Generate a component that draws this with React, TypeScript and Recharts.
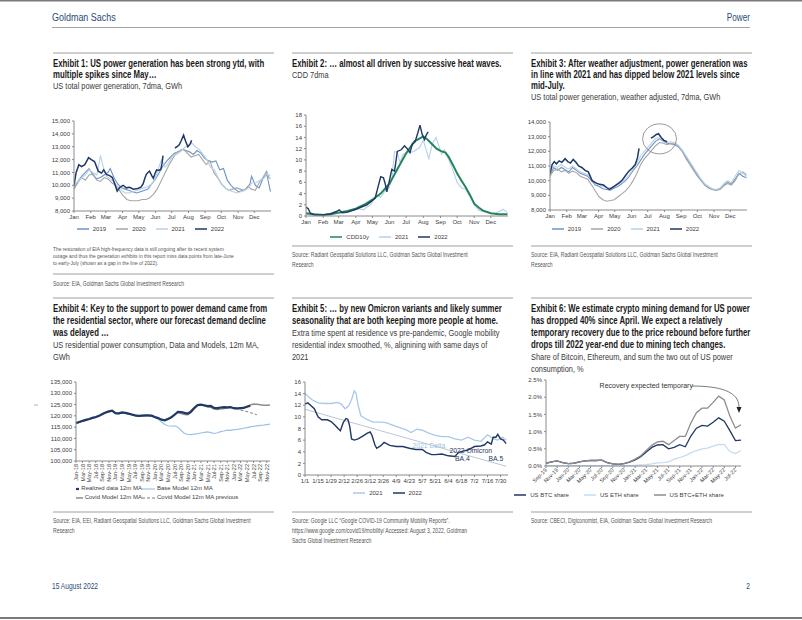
import React from "react";
import { LineChart, Line, XAxis, YAxis, Legend, ReferenceDot } from "recharts";

const FONT = "'Liberation Sans', Arial, Helvetica, sans-serif";
const NAVY = "#1f3864";
const MID = "#6b93c8";
const GREY = "#a6a6a6";
const LIGHT = "#b7d1ea";
const HEAD = "#2c4a75";

// ---------- shared axis labels ----------
const MONTHS = ["Jan", "Feb", "Mar", "Apr", "May", "Jun", "Jul", "Aug", "Sep", "Oct", "Nov", "Dec"];
const MONTH_START = [0, 31, 59, 90, 120, 151, 181, 212, 243, 273, 304, 334];

// ---------- Exhibit 1: US total power generation, 7dma, GWh  [day of year, GWh] ----------
const gen2019 = [[0,9800],[7,10300],[14,10700],[21,11000],[28,11300],[35,10800],[42,10500],[49,10600],[56,10800],[63,11000],[67,11300],[74,10600],[81,10100],[88,9800],[95,9700],[102,9600],[109,9500],[116,9400],[123,9500],[130,9600],[137,9700],[144,10100],[151,10500],[158,11000],[165,11500],[172,11900],[179,12200],[186,12500],[193,12600],[200,12800],[207,12700],[214,12600],[221,12400],[228,12700],[235,12500],[242,12100],[249,11900],[256,11800],[263,11900],[270,11200],[277,11300],[284,10400],[291,10000],[298,9700],[305,9500],[312,9600],[319,9700],[326,10100],[329,10700],[336,10000],[343,9800],[350,10500],[357,10900],[361,10100],[364,9500]];
const gen2020 = [[0,9700],[7,10200],[14,10600],[21,10400],[28,10800],[35,10900],[42,10400],[49,10300],[56,10600],[63,10500],[70,10200],[77,10000],[84,9600],[91,9200],[98,8900],[105,8800],[112,8800],[119,8800],[126,8900],[133,8900],[140,9000],[147,9300],[154,9700],[161,10300],[168,10900],[175,11500],[182,12000],[189,12500],[196,12700],[203,12800],[210,12500],[217,12200],[224,12300],[231,12400],[238,12000],[245,11600],[252,11900],[259,11000],[266,10600],[273,10100],[280,9800],[287,9600],[294,9700],[301,9800],[308,9700],[315,9600],[322,9900],[329,9700],[336,9600],[343,10200],[350,10600],[357,11100],[361,10600],[364,10500]];
const gen2021 = [[0,10000],[7,10300],[14,10600],[21,10800],[28,11200],[35,11000],[42,10800],[46,11600],[49,12300],[53,11600],[60,10700],[67,10500],[74,10300],[81,9900],[88,9600],[95,9400],[102,9400],[109,9500],[116,9600],[123,9700],[130,9800],[137,9900],[144,10100],[151,10600],[158,11500],[162,12000],[169,11400],[176,11800],[183,12300],[190,12400],[197,12600],[204,12900],[211,13100],[218,13300],[225,13000],[232,12800],[239,12400],[246,12000],[253,11400],[260,11200],[267,10600],[274,10100],[281,9800],[288,9600],[295,9500],[302,9400],[309,9500],[316,9600],[323,9800],[330,10200],[337,10200],[344,10400],[351,10500],[358,10900],[364,10700]];
const gen2022 = [[0,10000],[4,11000],[9,11600],[14,11450],[20,11600],[27,12150],[32,12000],[38,11850],[45,11100],[51,10950],[55,11200],[60,10850],[66,10750],[71,10600],[76,10050],[80,9550],[85,9850],[91,10000],[97,9800],[103,9850],[110,9700],[118,9750],[124,9850],[128,10100],[131,10500],[134,10850],[137,11000],[140,11100],[144,10750],[147,10550],[150,10900],[153,11200],[157,11150],[161,11250],[163,11700],[165,12300],[166,null],[187,12900],[191,13000],[195,13150],[199,13500],[203,13900],[207,13400],[211,13000],[215,13200],[218,13500]];
const GEN_TICKS = [8000, 9000, 10000, 11000, 12000, 13000, 14000, 15000];

// ---------- Exhibit 2: CDD 7dma ----------
const cdd10y = [[0,0.5],[15,0.3],[31,0.2],[45,0.3],[59,0.6],[75,0.9],[90,1.3],[105,2.0],[120,2.9],[135,4.0],[151,5.8],[166,8.5],[181,11.2],[196,13.3],[212,14.2],[220,13.6],[228,12.8],[236,12.0],[243,11.6],[252,11.3],[258,10.5],[266,9.0],[273,7.6],[281,6.3],[288,5.2],[296,3.8],[304,2.2],[312,1.5],[319,1.0],[334,0.5],[349,0.3],[364,0.3]];
const cdd2021 = [[0,0.3],[10,0.2],[20,0.2],[30,0.3],[40,0.4],[55,0.8],[62,0.4],[70,0.5],[85,1.0],[95,1.3],[104,1.1],[110,1.6],[116,1.9],[120,2.5],[128,3.8],[135,3.3],[143,4.5],[150,5.0],[155,6.5],[160,11.5],[165,11.3],[170,9.5],[175,11.0],[185,11.3],[195,11.5],[205,12.2],[212,13.5],[218,11.5],[222,10.2],[228,12.8],[235,14.0],[240,12.5],[245,11.0],[250,11.8],[258,10.0],[266,8.0],[273,6.0],[281,5.0],[288,4.8],[296,3.5],[304,2.0],[312,1.0],[319,0.8],[334,0.4],[342,0.5],[349,0.8],[356,1.2],[364,0.6]];
const cdd2022 = [[0,1.6],[4,1.3],[8,0.5],[15,0.2],[31,0.2],[45,0.4],[55,0.8],[60,1.1],[65,0.6],[75,0.7],[90,1.2],[100,1.6],[110,2.0],[118,2.6],[125,3.2],[131,5.5],[135,7.0],[140,6.8],[143,5.8],[146,4.3],[150,6.0],[155,8.3],[160,8.0],[165,11.5],[172,11.8],[178,12.5],[183,12.0],[188,11.3],[192,12.8],[197,13.2],[202,14.8],[206,16.2],[210,14.5],[214,13.6],[218,14.6],[221,15.0]];
const CDD_TICKS = [0, 2, 4, 6, 8, 10, 12, 14, 16, 18];

// ---------- Exhibit 3: weather adjusted generation ----------
const adj2019 = [[0,10400],[7,10900],[14,10700],[21,10900],[28,10750],[35,10600],[42,10900],[49,10700],[56,10500],[63,10400],[70,10300],[77,10000],[84,9700],[91,9600],[98,9450],[105,9400],[112,9350],[119,9500],[126,9600],[133,9800],[140,10000],[147,10300],[154,10700],[161,11000],[168,11400],[175,11800],[182,12100],[189,12400],[196,12700],[203,12850],[210,12700],[217,12550],[224,12500],[231,12450],[238,12300],[245,12000],[252,11600],[259,11200],[266,10800],[273,10400],[280,10000],[287,9700],[294,9500],[301,9400],[308,9350],[315,9450],[322,9700],[329,9900],[336,9750],[343,10100],[350,10500],[357,10300],[364,10200]];
const adj2020 = [[0,10300],[7,10700],[14,10800],[21,10600],[28,10700],[35,10500],[42,10650],[49,10550],[56,10300],[63,10200],[70,10100],[77,9700],[84,9300],[91,8900],[98,8700],[105,8600],[112,8650],[119,8700],[126,8900],[133,9100],[140,9300],[147,9600],[154,10000],[161,10500],[168,11100],[175,11500],[182,11800],[189,12100],[196,12400],[203,12600],[210,12550],[217,12450],[224,12550],[231,12500],[238,12350],[245,12000],[252,11500],[259,11100],[266,10700],[273,10300],[280,10000],[287,9700],[294,9500],[301,9400],[308,9350],[315,9400],[322,9650],[329,9800],[336,9700],[343,10000],[350,10450],[357,10600],[364,10400]];
const adj2021 = [[0,10600],[7,11000],[14,10900],[21,11100],[28,10900],[35,10800],[42,11000],[49,10800],[56,10600],[63,10500],[70,10400],[77,10100],[84,9800],[91,9700],[98,9600],[105,9550],[112,9500],[119,9600],[126,9700],[133,9900],[140,10100],[147,10400],[154,10800],[161,11200],[168,11700],[175,12000],[182,12300],[189,12600],[196,12900],[203,12900],[210,12750],[217,12600],[224,12650],[231,12600],[238,12400],[245,12100],[252,11700],[259,11300],[266,10900],[273,10500],[280,10100],[287,9800],[294,9600],[301,9450],[308,9400],[315,9500],[322,9800],[329,10000],[336,9850],[343,10300],[350,10700],[357,10500],[364,10300]];
const adj2022 = [[0,10500],[4,11100],[8,11300],[12,11150],[17,11350],[22,11250],[28,11500],[33,11300],[38,11200],[43,11450],[48,11250],[53,11000],[59,10900],[65,10700],[71,10600],[78,10000],[85,9850],[92,9750],[99,9700],[106,9500],[110,9400],[116,9550],[122,9700],[128,9850],[134,10050],[140,10350],[146,10650],[152,10850],[158,11100],[162,11550],[165,12200],[166,null],[187,12900],[192,13000],[197,13150],[201,13200],[206,12950],[211,12750],[217,12650]];
const ADJ_TICKS = [8000, 9000, 10000, 11000, 12000, 13000, 14000];

// ---------- Exhibit 4: residential consumption, 12m MA, GWh (Jan-18 .. Dec-22) ----------
const YEARS4 = ["18", "19", "20", "21", "22"];
const months4 = YEARS4.flatMap((y) => MONTHS.map((m) => `${m}-${y}`));
const realized4 = [116800,117300,117800,118200,118600,119100,119500,120000,120800,121500,122000,122300,121200,121100,121500,121300,121000,120600,120200,120000,120100,120200,120200,120100,119500,119000,118300,118000,118600,119300,120500,121800,121700,121300,121000,122000,123600,124800,125000,124700,124300,124400,123500,123400,123700,123900,123800,123900,123400,123300,123400,123500,124000,124500];
const covid4 = [116700,117200,117700,118100,118500,119000,119400,119900,120700,121400,121900,122200,121100,121000,121400,121200,120900,120500,120100,119900,120000,120100,120100,120000,119400,118900,118400,118200,118800,119600,120800,121400,121000,120600,120500,121500,123200,124500,124800,124500,124000,123800,123000,122800,123000,123300,123500,123700,123300,123200,123300,123600,124200,124800,125200,125100,124900,124700,124700,124800];
const base4 = [116600,117100,117600,118000,118400,118900,119300,119800,120600,121300,121800,122100,121000,120900,121300,121100,120800,120400,120000,119800,119900,120000,120000,119900,119200,118500,117300,116200,115600,115400,115600,115000,113500,112200,111800,111700,111900,112100,112400,112700,112900,112600,112200,112500,113000,113300,113700,113600,113900,114000,114200,114500,114800,115100,115400,115600,115800,115900,116100,116300];
const PREV4_START = 50;
const prev4 = [122600,122300,121900,121400,121000,120500];
const RES_TICKS = [100000, 105000, 110000, 115000, 120000, 125000, 130000, 135000];
const series4 = [
  { key: "realized", name: "Realized data 12m MA", color: NAVY, width: 2.2, dash: undefined },
  { key: "base", name: "Base Model 12m MA", color: "#9cc2e5", width: 1.2, dash: undefined },
  { key: "covid", name: "Covid Model 12m MA", color: "#8c8c8c", width: 1.5, dash: undefined },
  { key: "prev", name: "Covid Model 12m MA previous", color: "#7f7f7f", width: 1, dash: "3 2" },
];

// ---------- Exhibit 5: residential mobility index, %  [day from 1/1, %] ----------
const DATES5 = ["1/1","1/15","1/29","2/12","2/26","3/12","3/26","4/9","4/23","5/7","5/21","6/4","6/18","7/2","7/16","7/30"];
const mob2021 = [[0,14.1],[4,13.4],[8,12.9],[14,12.4],[21,12.3],[28,12.3],[35,12.5],[39,12.2],[43,11.4],[47,11.9],[50,13.0],[53,14.5],[55,14.0],[57,12.0],[60,10.2],[66,9.6],[73,9.1],[80,9.1],[87,9.0],[94,8.6],[101,8.2],[108,7.8],[114,7.3],[120,7.9],[126,7.7],[133,7.2],[140,6.8],[147,6.6],[154,6.6],[161,6.2],[168,6.0],[175,6.5],[182,6.0],[189,5.8],[196,6.9],[200,6.5],[203,6.2],[207,6.0],[212,6.5],[216,6.0]];
const mob2022 = [[0,12.2],[3,12.4],[6,12.0],[10,11.4],[14,10.0],[18,9.5],[24,9.5],[28,9.2],[32,8.6],[36,7.9],[38,7.6],[41,9.0],[44,9.7],[46,9.6],[48,8.4],[50,6.2],[53,6.0],[57,6.2],[62,6.7],[67,7.2],[70,7.4],[72,6.8],[75,5.2],[77,4.6],[81,5.0],[85,5.6],[91,5.1],[98,4.9],[105,4.9],[112,4.6],[119,4.4],[126,4.4],[130,3.9],[136,3.5],[140,3.5],[147,3.6],[154,3.3],[161,3.2],[165,3.9],[170,4.1],[175,4.3],[182,4.9],[189,5.0],[193,5.2],[196,5.7],[200,5.3],[202,6.5],[205,6.5],[207,7.0],[210,6.2],[213,6.0],[216,5.4]];
const trend5 = [[0,11.3],[216,1.5]];
const MOB_TICKS = [0, 2, 4, 6, 8, 10, 12, 14, 16];

// ---------- Exhibit 6: crypto share of US power, % (Sep-19 .. Aug-22) ----------
const months6 = ["Sep-19","Oct-19","Nov-19","Dec-19","Jan-20","Feb-20","Mar-20","Apr-20","May-20","Jun-20","Jul-20","Aug-20","Sep-20","Oct-20","Nov-20","Dec-20","Jan-21","Feb-21","Mar-21","Apr-21","May-21","Jun-21","Jul-21","Aug-21","Sep-21","Oct-21","Nov-21","Dec-21","Jan-22","Feb-22","Mar-22","Apr-22","May-22","Jun-22","Jul-22","Aug-22"];
const btc6 = [0.08,0.12,0.15,0.10,0.07,0.08,0.12,0.15,0.16,0.16,0.17,0.10,0.06,0.05,0.07,0.11,0.18,0.27,0.41,0.54,0.61,0.62,0.50,0.54,0.62,0.56,0.87,1.10,1.18,1.16,1.27,1.40,1.30,1.03,0.74,0.75];
const eth6 = [0.01,0.01,0.01,0.01,0.01,0.01,0.01,0.01,0.01,0.01,0.01,0.01,0.01,0.01,0.01,0.01,0.02,0.03,0.04,0.06,0.09,0.10,0.12,0.20,0.24,0.30,0.38,0.45,0.50,0.52,0.58,0.63,0.62,0.42,0.36,0.45];
const sum6 = [0.08,0.12,0.15,0.10,0.07,0.08,0.12,0.15,0.16,0.16,0.17,0.10,0.06,0.05,0.07,0.12,0.20,0.30,0.45,0.60,0.70,0.72,0.62,0.74,0.86,0.86,1.25,1.55,1.68,1.68,1.85,2.03,1.92,1.45,1.10,1.20];
const SHARE_TICKS = [0, 0.5, 1, 1.5, 2, 2.5];

// ---------- helpers ----------
const pts = (a: (number | null)[][]) => a.map(([x, y]) => ({ x, y }));
const comma = (v: number) => v.toLocaleString("en-US");
const monthLabel = (v: number) => MONTHS[MONTH_START.indexOf(v)];
// keep legend items in series order (recharts 3 sorts by name otherwise)
const inOrder = (names: string[]) => (item: any) => names.indexOf(item.value);

const TICK = { fontSize: 6, fill: "#404040", fontFamily: FONT };
const AX = { stroke: "#8a8a8a" };
const yCommon = { type: "number" as const, tick: TICK, tickSize: 2, axisLine: AX, tickLine: AX, interval: 0 as const };
const xNum = { type: "number" as const, dataKey: "x", tick: TICK, tickSize: 2, axisLine: AX, tickLine: AX, interval: 0 as const, allowDataOverflow: true };
const legendCommon = {
  verticalAlign: "bottom" as const,
  height: 10,
  iconType: "plainline" as const,
  iconSize: 12,
  wrapperStyle: { fontSize: 6, lineHeight: "10px", fontFamily: FONT, whiteSpace: "nowrap" as const },
  formatter: (v: string) => <span style={{ color: "#404040" }}>{v}</span>,
};
const lineBase = { dot: false, activeDot: false, isAnimationActive: false, dataKey: "y", type: "linear" as const };

const rotTick = (angle: number) => (p: any) => (
  <text
    x={p.x}
    y={p.y - 1}
    transform={`rotate(${angle},${p.x},${p.y - 1})`}
    textAnchor="end"
    dominantBaseline="central"
    fontSize={5.5}
    fill="#404040"
    fontFamily={FONT}
  >
    {p.payload.value}
  </text>
);

function Box({ left, top, children }: { left: number; top: number; children: React.ReactNode }) {
  return <div style={{ position: "absolute", left, top }}>{children}</div>;
}

function Chart1() {
  return (
    <Box left={40} top={114}>
      <LineChart width={236} height={121} margin={{ top: 7, right: 5, bottom: 2, left: 0 }}>
        <XAxis {...xNum} domain={[0, 365]} ticks={MONTH_START} tickFormatter={monthLabel} height={12} />
        <YAxis {...yCommon} domain={[8000, 15000]} ticks={GEN_TICKS} tickFormatter={comma} width={34} />
        <Legend {...legendCommon} itemSorter={inOrder(["2019", "2020", "2021", "2022"])} />
        <Line {...lineBase} data={pts(gen2019)} name="2019" stroke={MID} strokeWidth={1.1} />
        <Line {...lineBase} data={pts(gen2020)} name="2020" stroke={GREY} strokeWidth={1.1} />
        <Line {...lineBase} data={pts(gen2021)} name="2021" stroke={LIGHT} strokeWidth={1.1} />
        <Line {...lineBase} data={pts(gen2022)} name="2022" stroke={NAVY} strokeWidth={1.5} />
      </LineChart>
    </Box>
  );
}

function Chart2() {
  return (
    <Box left={280} top={108}>
      <LineChart width={232} height={135} margin={{ top: 7, right: 4, bottom: 2, left: 0 }}>
        <XAxis {...xNum} domain={[0, 365]} ticks={MONTH_START} tickFormatter={monthLabel} height={15} />
        <YAxis {...yCommon} domain={[0, 18]} ticks={CDD_TICKS} width={26} />
        <Legend {...legendCommon} itemSorter={inOrder(["CDD10y", "2021", "2022"])} />
        <Line {...lineBase} data={pts(cdd2021)} name="2021" stroke={LIGHT} strokeWidth={1.1} />
        <Line {...lineBase} data={pts(cdd10y)} name="CDD10y" stroke="#23865a" strokeWidth={2} />
        <Line {...lineBase} data={pts(cdd2022)} name="2022" stroke={NAVY} strokeWidth={1.4} />
      </LineChart>
    </Box>
  );
}

function Chart3() {
  return (
    <Box left={514} top={115}>
      <LineChart width={237} height={120} margin={{ top: 7, right: 4, bottom: 2, left: 0 }}>
        <XAxis {...xNum} domain={[0, 365]} ticks={MONTH_START} tickFormatter={monthLabel} height={13} />
        <YAxis {...yCommon} domain={[8000, 14000]} ticks={ADJ_TICKS} tickFormatter={comma} width={36} />
        <Legend {...legendCommon} itemSorter={inOrder(["2019", "2020", "2021", "2022"])} />
        <Line {...lineBase} data={pts(adj2019)} name="2019" stroke={MID} strokeWidth={1.1} />
        <Line {...lineBase} data={pts(adj2020)} name="2020" stroke={GREY} strokeWidth={1.1} />
        <Line {...lineBase} data={pts(adj2021)} name="2021" stroke={LIGHT} strokeWidth={1.1} />
        <Line {...lineBase} data={pts(adj2022)} name="2022" stroke={NAVY} strokeWidth={1.5} />
        <ReferenceDot
          x={203}
          y={12850}
          r={16}
          shape={(p: any) => <ellipse cx={p.cx} cy={p.cy} rx={17} ry={15} fill="none" stroke="#808080" strokeWidth={0.8} />}
        />
      </LineChart>
    </Box>
  );
}

const table4 = months4.map((m, i) => ({
  m,
  realized: realized4[i] ?? null,
  base: base4[i],
  covid: covid4[i],
  prev: i >= PREV4_START ? prev4[i - PREV4_START] ?? null : null,
}));

function Legend4() {
  return (
    <div style={{ display: "grid", gridTemplateColumns: "66px 110px", paddingLeft: 40, fontSize: 6, lineHeight: "9px", fontFamily: FONT, color: "#404040" }}>
      {series4.map((s) => (
        <div key={s.key} style={{ display: "flex", alignItems: "center", whiteSpace: "nowrap" }}>
          <svg width={13} height={6} style={{ marginRight: 2 }}>
            <line x1={0} y1={3} x2={13} y2={3} stroke={s.color} strokeWidth={s.width} strokeDasharray={s.dash} />
          </svg>
          {s.name}
        </div>
      ))}
    </div>
  );
}

function Chart4() {
  return (
    <Box left={36} top={375}>
      <LineChart width={238} height={131} data={table4} margin={{ top: 7, right: 4, bottom: 2, left: 0 }}>
        <XAxis dataKey="m" interval={1} height={23} tick={rotTick(-90)} tickSize={2} axisLine={AX} tickLine={AX} />
        <YAxis {...yCommon} domain={[100000, 135000]} ticks={RES_TICKS} tickFormatter={comma} width={40} />
        <Legend verticalAlign="bottom" height={20} content={() => <Legend4 />} />
        <Line {...lineBase} dataKey="base" name={series4[1].name} stroke={series4[1].color} strokeWidth={series4[1].width} />
        <Line {...lineBase} dataKey="covid" name={series4[2].name} stroke={series4[2].color} strokeWidth={series4[2].width} />
        <Line {...lineBase} dataKey="prev" name={series4[3].name} stroke={series4[3].color} strokeWidth={series4[3].width} strokeDasharray={series4[3].dash} />
        <Line {...lineBase} dataKey="realized" name={series4[0].name} stroke={series4[0].color} strokeWidth={series4[0].width} />
      </LineChart>
    </Box>
  );
}

const label5 = (value: string, fill: string) => ({ value, position: "center" as const, fill, fontSize: 6.8, fontFamily: FONT });

function Chart5() {
  const ticks = DATES5.map((_, i) => i * 14);
  return (
    <Box left={277} top={375}>
      <LineChart width={235} height={124} margin={{ top: 7, right: 4, bottom: 2, left: 0 }}>
        <XAxis {...xNum} domain={[0, 218]} ticks={ticks} tickFormatter={(v: number) => DATES5[v / 14]} height={12} />
        <YAxis {...yCommon} domain={[0, 16]} ticks={MOB_TICKS} width={28} />
        <Legend {...legendCommon} itemSorter={inOrder(["2021", "2022"])} />
        <Line {...lineBase} data={pts(trend5)} name="trend" legendType="none" stroke="#b9c6d6" strokeWidth={1} />
        <Line {...lineBase} data={pts(mob2021)} name="2021" stroke="#a9c9e8" strokeWidth={1.3} />
        <Line {...lineBase} data={pts(mob2022)} name="2022" stroke={NAVY} strokeWidth={1.4} />
        <ReferenceDot x={133} y={5.0} r={0} label={label5("2021 Delta", "#9dc3e6")} />
        <ReferenceDot x={178} y={4.25} r={0} label={label5("2022 Omicron", NAVY)} />
        <ReferenceDot x={169} y={2.75} r={0} label={label5("BA.4", NAVY)} />
        <ReferenceDot x={205} y={2.75} r={0} label={label5("BA.5", NAVY)} />
      </LineChart>
    </Box>
  );
}

const table6 = months6.map((m, i) => ({ m, btc: btc6[i], eth: eth6[i], sum: sum6[i] }));

function Chart6() {
  return (
    <Box left={512} top={373}>
      <LineChart width={233} height={128} data={table6} margin={{ top: 7, right: 4, bottom: 2, left: 0 }}>
        <XAxis dataKey="m" interval={1} height={23} tick={rotTick(-45)} tickSize={2} axisLine={AX} tickLine={AX} />
        <YAxis {...yCommon} domain={[0, 2.5]} ticks={SHARE_TICKS} tickFormatter={(v: number) => v.toFixed(1) + "%"} width={34} />
        <Legend
          {...legendCommon}
          itemSorter={inOrder(["US BTC share", "US ETH share", "US BTC+ETH share"])}
          formatter={(v: string) => <span style={{ color: "#404040", paddingRight: 5 }}>{v}</span>}
        />
        <Line {...lineBase} dataKey="btc" name="US BTC share" stroke={NAVY} strokeWidth={1.3} />
        <Line {...lineBase} dataKey="eth" name="US ETH share" stroke="#c5dcf0" strokeWidth={1.3} />
        <Line {...lineBase} dataKey="sum" name="US BTC+ETH share" stroke="#8c8c8c" strokeWidth={1.3} />
        <ReferenceDot x="Mar-21" y={2.33} r={0} label={{ value: "Recovery expected temporary", position: "center", fill: "#333", fontSize: 7, fontFamily: FONT }} />
        <ReferenceDot
          x="Aug-22"
          y={1.54}
          r={1}
          shape={(p: any) => (
            <g>
              <path d={`M${p.cx - 49},${p.cy - 27} C${p.cx - 22},${p.cy - 27} ${p.cx - 2},${p.cy - 22} ${p.cx - 2},${p.cy - 6}`} fill="none" stroke="#595959" strokeWidth={0.8} />
              <polygon points={`${p.cx - 2},${p.cy} ${p.cx - 4.5},${p.cy - 6} ${p.cx + 0.5},${p.cy - 6}`} fill="#222" />
            </g>
          )}
        />
      </LineChart>
    </Box>
  );
}

// ---------- page text ----------
const K = 0.78;
function PText({ x, y, s, t, w = 400, c = "#333", a = "start" }: any) {
  return (
    <g transform={`translate(${x},${y}) scale(${K},1)`}>
      <text x={0} y={0} fontSize={s} fontWeight={w} fill={c} textAnchor={a} dominantBaseline="central" fontFamily={FONT}>
        {t}
      </text>
    </g>
  );
}

const COLS = [53, 292, 531];
const TITLES: [number, number, string, boolean][] = [
  [0, 64, "Exhibit 1: US power generation has been strong ytd, with", true],
  [0, 75, "multiple spikes since May…", true],
  [0, 86, "US total power generation, 7dma, GWh", false],
  [1, 64, "Exhibit 2: … almost all driven by successive heat waves.", true],
  [1, 75, "CDD 7dma", false],
  [2, 64, "Exhibit 3: After weather adjustment, power generation was", true],
  [2, 75, "in line with 2021 and has dipped below 2021 levels since", true],
  [2, 86, "mid-July.", true],
  [2, 97, "US total power generation, weather adjusted, 7dma, GWh", false],
  [0, 309, "Exhibit 4: Key to the support to power demand came from", true],
  [0, 321, "the residential sector, where our forecast demand decline", true],
  [0, 333, "was delayed …", true],
  [0, 345, "US residential power consumption, Data and Models, 12m MA,", false],
  [0, 357, "GWh", false],
  [1, 309, "Exhibit 5: … by new Omicron variants and likely summer", true],
  [1, 321, "seasonality that are both keeping more people at home.", true],
  [1, 333, "Extra time spent at residence vs pre-pandemic, Google mobility", false],
  [1, 345, "residential index smoothed, %, alignining with same days of", false],
  [1, 357, "2021", false],
  [2, 309, "Exhibit 6: We estimate crypto mining demand for US power", true],
  [2, 321, "has dropped 40% since April. We expect a relatively", true],
  [2, 333, "temporary recovery due to the price rebound before further", true],
  [2, 345, "drops till 2022 year-end due to mining tech changes.", true],
  [2, 357, "Share of Bitcoin, Ethereum, and sum the two out of US power", false],
  [2, 369, "consumption, %", false],
];
const SMALL: [number, number, string, number][] = [
  [0, 249, "The restoration of EIA high-frequency data is still ongoing after its recent system", 6.2],
  [0, 256, "outage and thus the generation exhibits in this report miss data points from late-June", 6.2],
  [0, 263, "to early-July (shown as a gap in the line of 2022).", 6.2],
  [0, 284, "Source: EIA, Goldman Sachs Global Investment Research", 6.5],
  [1, 255, "Source: Radiant Geospatial Solutions LLC,  Goldman Sachs Global Investment", 6.5],
  [1, 265, "Research", 6.5],
  [2, 255, "Source: EIA, Radiant Geospatial Solutions LLC, Goldman Sachs Global Investment", 6.5],
  [2, 265, "Research", 6.5],
  [0, 521, "Source: EIA, EEI, Radiant Geospatial Solutions LLC, Goldman Sachs Global Investment", 6.5],
  [0, 531, "Research", 6.5],
  [1, 521, "Source: Google LLC \u201cGoogle COVID-19 Community Mobility Reports\u201d.", 6.5],
  [1, 531, "https://www.google.com/covid19/mobility/ Accessed: August 3, 2022, Goldman", 6.5],
  [1, 541, "Sachs Global Investment Research", 6.5],
  [2, 521, "Source: CBECI, Digiconomist, EIA, Goldman Sachs Global Investment Research", 6.5],
];
const RULES: [number, number][] = [
  [0, 53], [1, 53], [2, 53],
  [0, 274], [1, 246], [2, 246],
  [0, 298], [1, 298], [2, 298],
  [0, 512], [1, 512], [2, 512],
];

function Page() {
  return (
    <svg width={802} height={620} style={{ position: "absolute", left: 0, top: 0, pointerEvents: "none" }}>
      <rect x={0} y={0} width={802} height={1.5} fill="#7a7a7a" />
      <rect x={0} y={617} width={802} height={2} fill="#7a7a7a" />
      <PText x={52} y={17} s={11.5} t="Goldman Sachs" c={HEAD} />
      <PText x={750} y={17} s={10.5} t="Power" c={HEAD} a="end" />
      <line x1={52} y1={27.5} x2={750} y2={27.5} stroke="#a6a6a6" strokeWidth={1} />
      {RULES.map(([c, y], i) => (
        <line key={i} x1={COLS[c]} y1={y} x2={COLS[c] + 221} y2={y} stroke="#bfbfbf" strokeWidth={1.5} />
      ))}
      {TITLES.map(([c, y, t, b], i) => (
        <PText key={i} x={COLS[c]} y={y} s={b ? 10 : 9.5} w={b ? 700 : 400} c={b ? "#1a1a1a" : "#3a3a3a"} t={t} />
      ))}
      {SMALL.map(([c, y, t, s], i) => (
        <PText key={i} x={COLS[c]} y={y} s={s} c="#555" t={t} />
      ))}
      <line x1={34} y1={405} x2={38} y2={405} stroke="#999" strokeWidth={0.8} />
      <PText x={52} y={586} s={8.5} t="15 August 2022" c={HEAD} />
      <PText x={750} y={586} s={8.5} t="2" c={HEAD} a="end" />
    </svg>
  );
}

export default function App() {
  return (
    <div style={{ position: "absolute", left: 0, top: 0, width: 802, height: 620, background: "#fff", overflow: "hidden" }}>
      <Chart1 />
      <Chart2 />
      <Chart3 />
      <Chart4 />
      <Chart5 />
      <Chart6 />
      <Page />
    </div>
  );
}
